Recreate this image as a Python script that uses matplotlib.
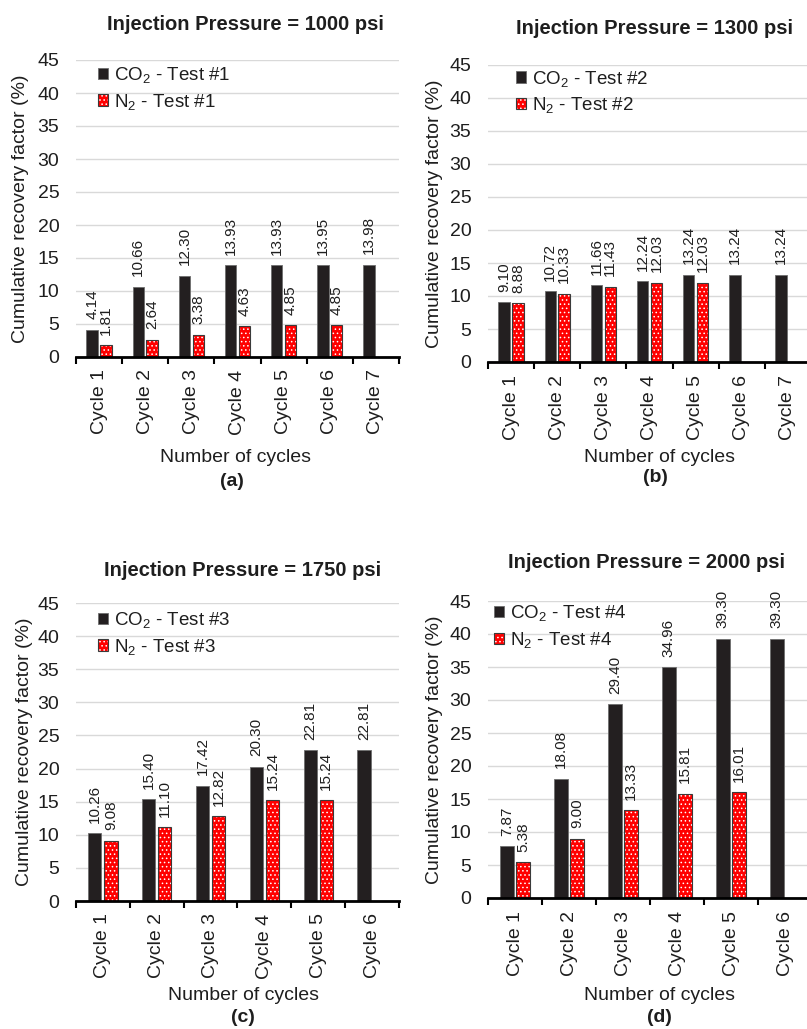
# cumulative recovery factor per cycle, CO2 vs N2 huff-n-puff, four injection pressures

import numpy as np
import matplotlib
matplotlib.use('Agg')
import matplotlib.pyplot as plt

plt.rcParams['font.family'] = 'Liberation Sans'
plt.rcParams['mathtext.fontset'] = 'custom'
plt.rcParams['mathtext.rm'] = 'Liberation Sans'
plt.rcParams['mathtext.it'] = 'Liberation Sans'
plt.rcParams['hatch.color'] = 'white'
plt.rcParams['hatch.linewidth'] = 0.6

pressures = [1000, 1300, 1750, 2000]
panel_tags = ['(a)', '(b)', '(c)', '(d)']

co2_a = [4.14, 10.66, 12.30, 13.93, 13.93, 13.95, 13.98]
n2_a = [1.81, 2.64, 3.38, 4.63, 4.85, 4.85]
co2_b = [9.10, 10.72, 11.66, 12.24, 13.24, 13.24, 13.24]
n2_b = [8.88, 10.33, 11.43, 12.03, 12.03]
co2_c = [10.26, 15.40, 17.42, 20.30, 22.81, 22.81]
n2_c = [9.08, 11.10, 12.82, 15.24, 15.24]
co2_d = [7.87, 18.08, 29.40, 34.96, 39.30, 39.30]
n2_d = [5.38, 9.00, 13.33, 15.81, 16.01]

co2_all = [co2_a, co2_b, co2_c, co2_d]
n2_all = [n2_a, n2_b, n2_c, n2_d]
tests = [1, 2, 3, 4]
yticks = [0, 5, 10, 15, 20, 25, 30, 35, 40, 45]

W, H = 807, 1029
TXT = '#1e1e1e'
fig = plt.figure(figsize=(W / 100, H / 100), dpi=100)

# pixel boxes: left, right, top, bottom
boxes = [(76, 399, 60, 357), (488, 811, 65, 362),
         (76, 399, 603, 901), (488, 812, 601, 898)]
title_xy = [(245, 25), (654, 28), (243, 570), (646, 563)]
ylab_x = [21, 435, 25, 435]
xlab_xy = [(236, 457), (659, 457), (244, 995), (659, 995)]
tag_xy = [(232, 482), (655, 477), (243, 1018), (659, 1018)]
leg_anchor = [(0.068, 0.983), (0.086, 0.988), (0.068, 0.976), (0.019, 0.992)]


def fx(x):
    return x / W


def fy(y):
    return 1 - y / H


for i in range(4):
    l, r, t, b = boxes[i]
    ax = fig.add_axes([fx(l), fy(b), (r - l) / W, (b - t) / H])
    co2 = co2_all[i]
    n2 = n2_all[i]
    n = len(co2)
    x = np.arange(n)
    xn = np.arange(len(n2))
    w = 0.245
    off = 0.15

    hc = ax.bar(x - off, co2, w, color='#231f20', edgecolor='#6e6e6e',
                linewidth=0.6, zorder=3)
    h1 = ax.bar(xn + off, n2, w, color='#ff0000', hatch='....',
                linewidth=0, zorder=3)
    h2 = ax.bar(xn + off, n2, w, fill=False, edgecolor='#3a3a3a',
                linewidth=0.8, zorder=4)

    for xi, v in zip(x - off, co2):
        ax.annotate('%.2f' % v, (xi, v), xytext=(0, 7.5), textcoords='offset points',
                    rotation=90, ha='center', va='bottom', fontsize=11, color=TXT)
    for xi, v in zip(xn + off, n2):
        ax.annotate('%.2f' % v, (xi, v), xytext=(0, 7.5), textcoords='offset points',
                    rotation=90, ha='center', va='bottom', fontsize=11, color=TXT)

    ax.set_xlim(-0.5, n - 0.5)
    ax.set_ylim(0, 45)
    ax.set_yticks(yticks)
    ax.yaxis.grid(True, color='#d9d9d9', linewidth=1.0, zorder=0)
    ax.set_axisbelow(True)
    ax.tick_params(axis='y', length=0, pad=12, labelsize=14, labelcolor=TXT)

    # boundary ticks between categories, labels at category centres
    ax.set_xticks(np.arange(n + 1) - 0.5)
    ax.set_xticklabels([])
    ax.set_xticks(x, minor=True)
    ax.set_xticklabels(['Cycle %d' % (k + 1) for k in x], minor=True,
                       rotation=90, fontsize=14, color=TXT)
    ax.tick_params(axis='x', which='major', length=5, width=1.5, color='black',
                   direction='out')
    ax.tick_params(axis='x', which='minor', length=0, pad=9)

    for s in ['top', 'right', 'left']:
        ax.spines[s].set_visible(False)
    ax.spines['bottom'].set_linewidth(2)
    ax.spines['bottom'].set_color('black')
    ax.spines['bottom'].set_zorder(5)

    ax.legend([hc[0], (h1[0], h2[0])],
              [r'CO$_2$ - Test #%d' % tests[i], r'N$_2$ - Test #%d' % tests[i]],
              loc='upper left', bbox_to_anchor=leg_anchor[i], frameon=False,
              fontsize=13.5, handlelength=0.55, handleheight=0.55,
              handletextpad=0.3, labelspacing=0.35, borderpad=0,
              borderaxespad=0, labelcolor=TXT)

    fig.text(fx(title_xy[i][0]), fy(title_xy[i][1]),
             'Injection Pressure = %d psi' % pressures[i],
             ha='center', va='center', fontsize=14.5, fontweight='bold', color=TXT)
    fig.text(fx(ylab_x[i]), fy((t + b) / 2), 'Cumulative recovery factor (%)',
             rotation=90, ha='center', va='center', fontsize=14, color=TXT)
    fig.text(fx(xlab_xy[i][0]), fy(xlab_xy[i][1]), 'Number of cycles',
             ha='center', va='center', fontsize=14, color=TXT)
    fig.text(fx(tag_xy[i][0]), fy(tag_xy[i][1]), panel_tags[i],
             ha='center', va='center', fontsize=14, fontweight='bold', color=TXT)

fig.savefig('out.png', dpi=100)
